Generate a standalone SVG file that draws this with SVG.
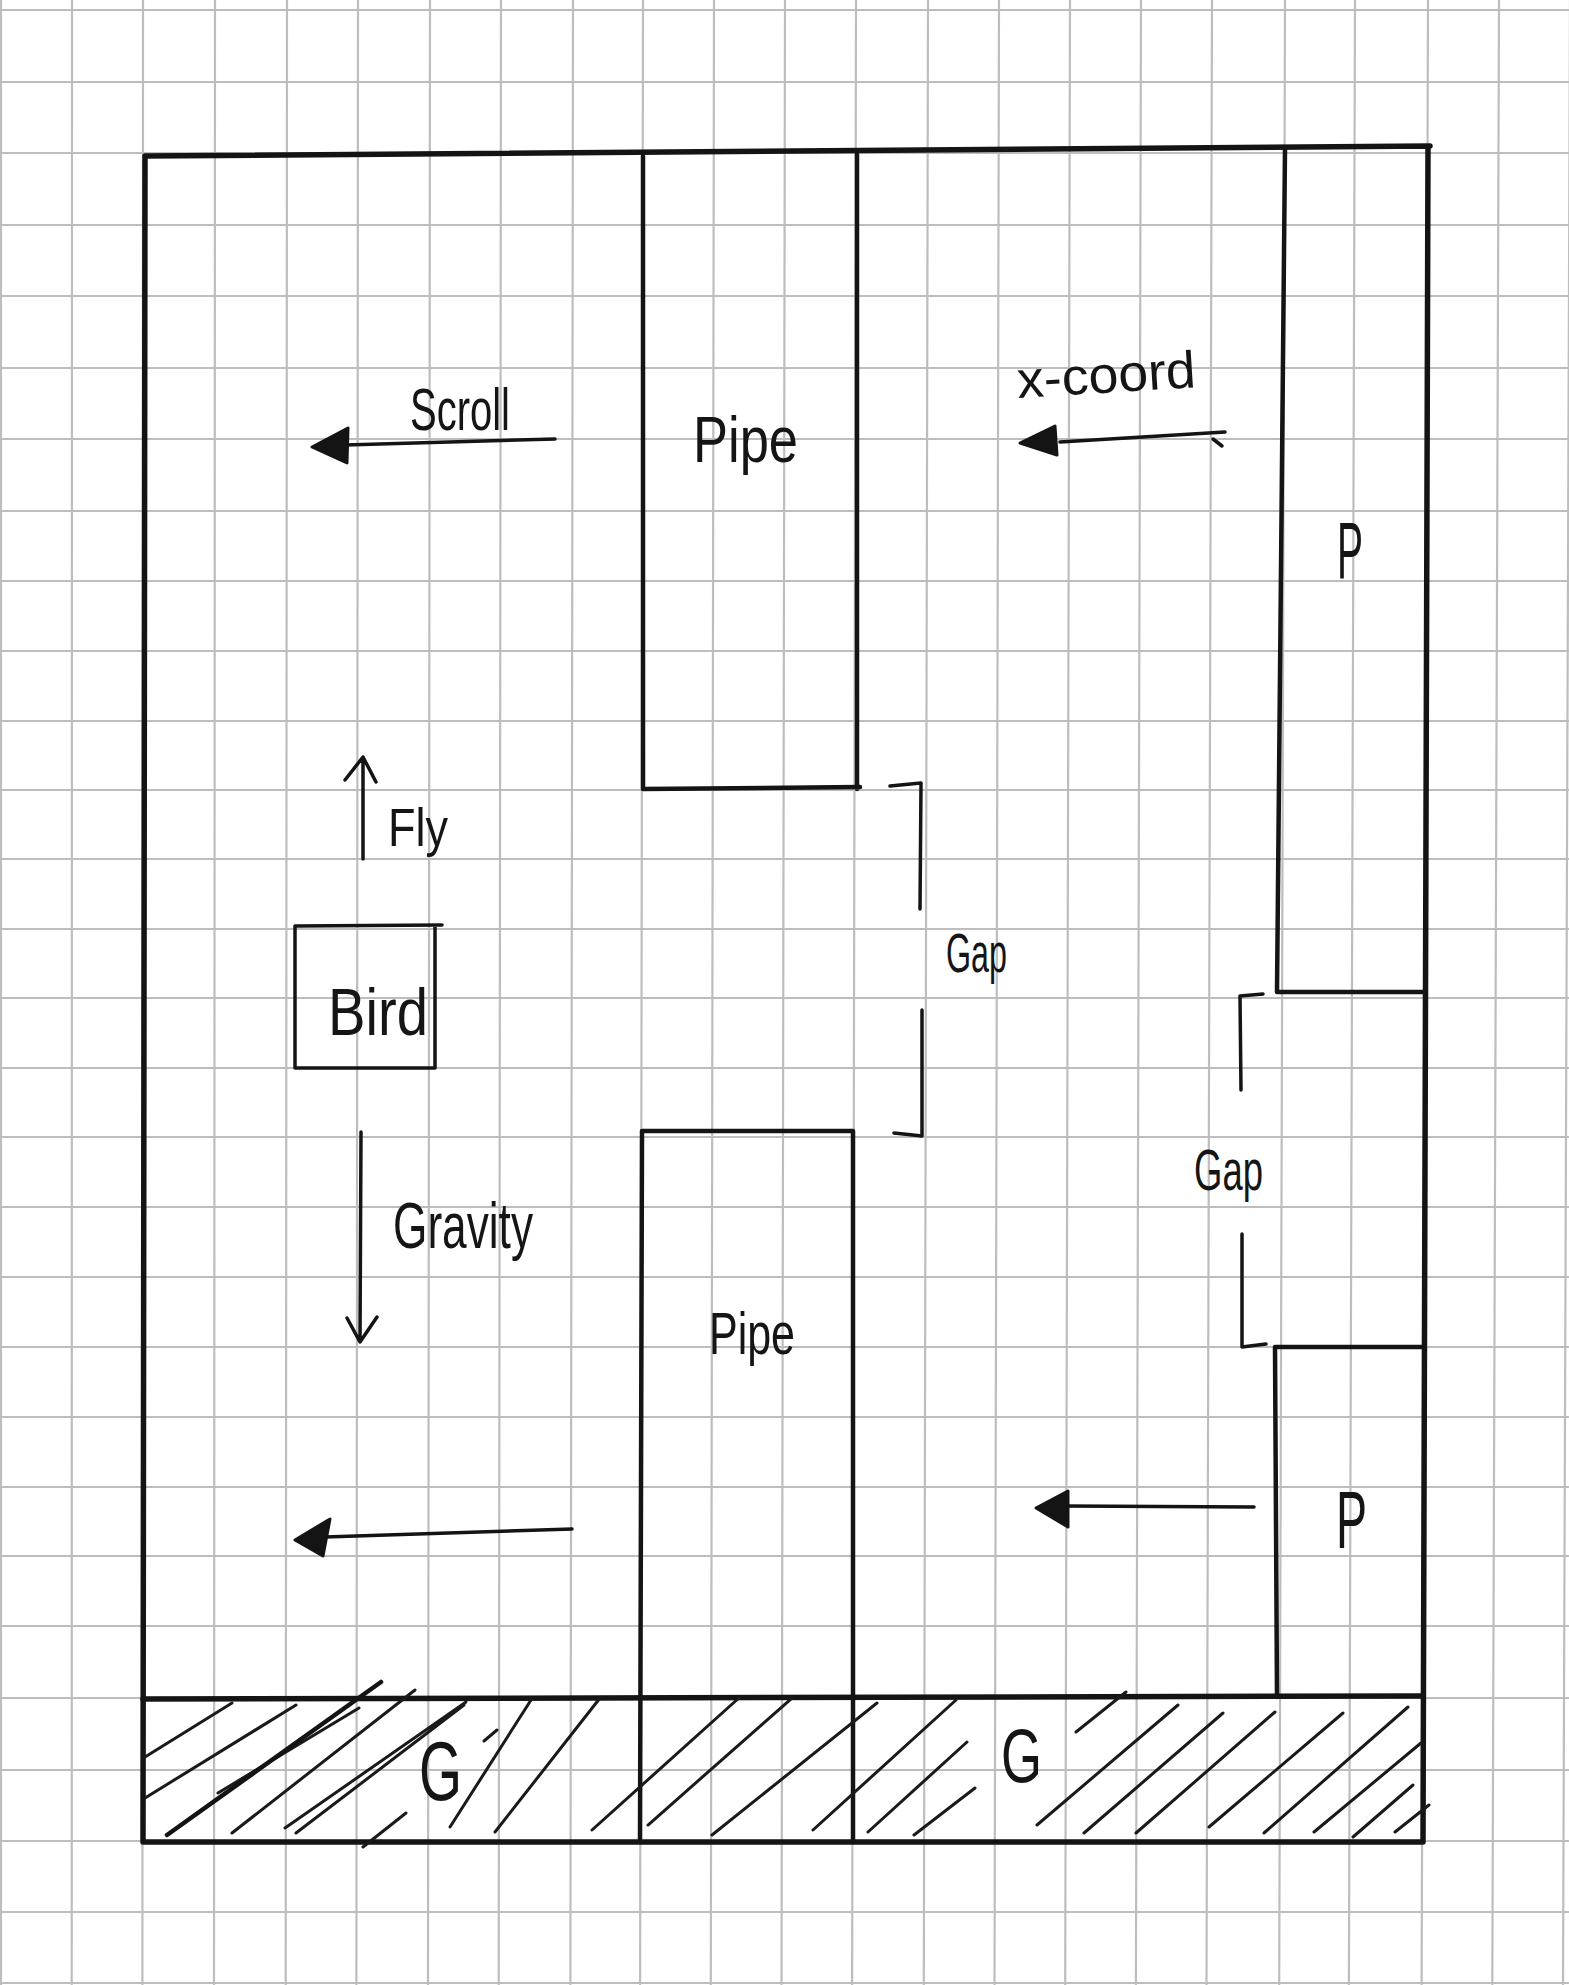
<svg xmlns="http://www.w3.org/2000/svg" width="1569" height="1985" viewBox="0 0 1569 1985">
<defs>
<style>
.grid{stroke:#bdbdbd;stroke-width:2.2;fill:none}
.thick{stroke:#141414;stroke-width:5.5;fill:none;stroke-linecap:round;stroke-linejoin:round}
.med{stroke:#141414;stroke-width:4.5;fill:none;stroke-linecap:round;stroke-linejoin:round}
.thin{stroke:#141414;stroke-width:3.5;fill:none;stroke-linecap:round;stroke-linejoin:round}
.hatch{stroke:#1a1a1a;stroke-width:3;fill:none;stroke-linecap:round}
.head{fill:#141414;stroke:#141414;stroke-width:3;stroke-linejoin:round}
.lbl{font-family:"Liberation Sans","DejaVu Sans",sans-serif;fill:#151515;lengthAdjust:spacingAndGlyphs}
</style>
</defs>
<rect x="0" y="0" width="1569" height="1985" fill="#ffffff"/>
<g id="grid">
<path class="grid" d="M1 0L1 1985M72 0L71.7 1985M143 0L142.4 1985M215 0L214 1985M287 0L285.7 1985M358 0L356.4 1985M430 0L428 1985M501 0L498.7 1985M573 0L570.4 1985M643 0L640.1 1985M714 0L710.8 1985M785 0L781.5 1985M856 0L852.1 1985M928 0L923.8 1985M999 0L994.5 1985M1070 0L1065.2 1985M1141 0L1135.9 1985M1212 0L1206.5 1985M1285 0L1279.2 1985M1355 0L1348.9 1985M1428 0L1421.6 1985M1499 0L1492.3 1985M1570 0L1563 1985"/>
<path class="grid" d="M0 10H1569M0 82H1569M0 153H1569M0 225H1569M0 296H1569M0 368H1569M0 439H1569M0 511H1569M0 581H1569M0 651H1569M0 721H1569M0 790H1569M0 859H1569M0 929H1569M0 998H1569M0 1068H1569M0 1137H1569M0 1207H1569M0 1277H1569M0 1347H1569M0 1417H1569M0 1487H1569M0 1556H1569M0 1626H1569M0 1698H1569M0 1770H1569M0 1841H1569M0 1912H1569M0 1983H1569"/>
</g>
<g id="frame">
<path class="thick" d="M145 156L1430 146M145 156L143 1842M1428 147L1423 1842M143 1842L1423 1842"/>
</g>
<g id="pipe-top">
<path class="med" d="M643 156L643 789L860 787M857 154L857 789"/>
<text class="lbl" x="693" y="462" font-size="64" textLength="105" lengthAdjust="spacingAndGlyphs">Pipe</text>
</g>
<g id="pipe-bottom">
<path class="med" d="M640 1842L642 1131L853 1131L853 1842"/>
<text class="lbl" x="709" y="1354" font-size="60" textLength="86" lengthAdjust="spacingAndGlyphs">Pipe</text>
</g>
<g id="pipe-right-top">
<path class="med" d="M1285 148L1277 992L1425 992"/>
<text class="lbl" x="1337" y="578" font-size="80" textLength="26" lengthAdjust="spacingAndGlyphs">P</text>
</g>
<g id="pipe-right-bottom">
<path class="med" d="M1423 1347L1275 1347L1277 1697"/>
<text class="lbl" x="1336" y="1548" font-size="82" textLength="31" lengthAdjust="spacingAndGlyphs">P</text>
</g>
<g id="ground">
<path class="thick" d="M143 1699L1423 1696"/>
<path class="hatch" d="M145 1757L232 1703M145 1798L296 1705M218 1793L359 1708M232 1833L415 1690M285 1828L466 1702M296 1833L464 1705M363 1847L406 1813M450 1827L531 1700M484 1741L497 1730M495 1832L600 1698M592 1830L740 1697M648 1825L792 1698M712 1835L877 1703M813 1830L956 1700M868 1832L967 1742M914 1835L975 1788M1076 1732L1126 1692M1037 1825L1178 1705M1084 1833L1223 1713M1136 1833L1275 1712M1209 1827L1343 1713M1264 1833L1408 1707M1314 1832L1421 1743M1353 1837L1413 1785M1395 1832L1429 1805"/>
<path class="med" d="M167 1835L381 1682"/>
<text class="lbl" x="419" y="1800" font-size="84" textLength="43" lengthAdjust="spacingAndGlyphs">G</text>
<text class="lbl" x="1001" y="1782" font-size="76" textLength="41" lengthAdjust="spacingAndGlyphs">G</text>
</g>
<g id="bird">
<path class="thin" d="M295 926L442 925M295 926L295 1068L435 1068L435 926"/>
<text class="lbl" x="328" y="1035" font-size="66" textLength="100" lengthAdjust="spacingAndGlyphs">Bird</text>
</g>
<g id="gap-1">
<path class="thin" d="M890 786L921 783L920 909M922 1010L922 1136L894 1133"/>
<text class="lbl" x="946" y="972" font-size="56" textLength="61" lengthAdjust="spacingAndGlyphs">Gap</text>
</g>
<g id="gap-2">
<path class="thin" d="M1263 994L1240 996L1241 1090M1242 1234L1242 1347L1266 1344"/>
<text class="lbl" x="1194" y="1190" font-size="58" textLength="69" lengthAdjust="spacingAndGlyphs">Gap</text>
</g>
<g id="connectors">
<path class="thin" d="M555 439L345 445"/>
<polygon class="head" points="312,447 348,428 347,463"/>
<path class="thin" d="M1225 432L1060 442M1213 439L1222 446"/>
<polygon class="head" points="1020,443 1055,426 1057,455"/>
<path class="thin" d="M572 1529L325 1537"/>
<polygon class="head" points="295,1540 330,1519 323,1556"/>
<path class="thin" d="M1254 1507L1065 1506"/>
<polygon class="head" points="1036,1508 1068,1491 1068,1527"/>
<path class="thin" d="M363 859L363 757M345 780L363 757L376 782"/>
<path class="thin" d="M361 1132L360 1342M347 1318L360 1342L377 1317"/>
</g>
<g id="labels">
<text class="lbl" x="410" y="430" font-size="60" textLength="100" lengthAdjust="spacingAndGlyphs">Scroll</text>
<text class="lbl" x="1018" y="398" font-size="52" textLength="179" lengthAdjust="spacingAndGlyphs" transform="rotate(-3.5 1018 398)">x-coord</text>
<text class="lbl" x="388" y="846" font-size="54" textLength="60" lengthAdjust="spacingAndGlyphs">Fly</text>
<text class="lbl" x="393" y="1248" font-size="64" textLength="140" lengthAdjust="spacingAndGlyphs">Gravity</text>
</g>
</svg>
